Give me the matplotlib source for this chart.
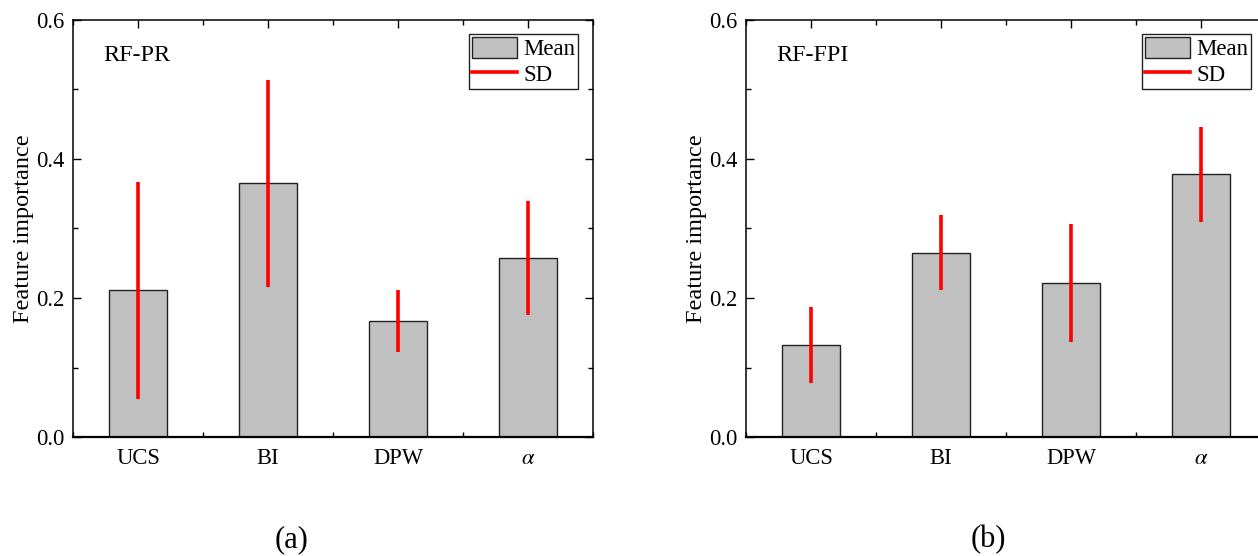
import matplotlib
matplotlib.use("Agg")
import matplotlib.pyplot as plt
from matplotlib.patches import Patch
from matplotlib.lines import Line2D
from matplotlib.ticker import MultipleLocator, FormatStrFormatter

plt.rcParams['font.family'] = ['Liberation Serif', 'DejaVu Serif']
plt.rcParams['mathtext.fontset'] = 'stix'

features = ['UCS', 'BI', 'DPW', r'$\alpha$']

# RF-PR
pr_mean = [0.211, 0.365, 0.167, 0.258]
pr_sd = [0.156, 0.149, 0.044, 0.082]

# RF-FPI
fpi_mean = [0.132, 0.265, 0.222, 0.378]
fpi_sd = [0.055, 0.054, 0.085, 0.068]

panels = [('RF-PR', pr_mean, pr_sd, '(a)'),
          ('RF-FPI', fpi_mean, fpi_sd, '(b)')]

fig = plt.figure(figsize=(12.58, 5.56), dpi=100)
lefts = [73 / 1258, 746 / 1258]
tag_x = [292 / 1258, 988 / 1258]
w = 520 / 1258
b = (556 - 437) / 556
h = 417 / 556

for i, (name, mean, sd, tag) in enumerate(panels):
    ax = fig.add_axes([lefts[i], b, w, h])
    x = list(range(len(features)))
    ax.bar(x, mean, width=0.45, color='#c0c0c0', edgecolor='#222222',
           linewidth=1.0, zorder=2)
    ax.errorbar(x, mean, yerr=sd, fmt='none', ecolor='#ff0000',
                elinewidth=2.6, capsize=0, zorder=3)
    ax.set_xlim(-0.5, 3.5)
    ax.set_ylim(0, 0.6)
    ax.set_xticks(x)
    ax.set_xticklabels(features)
    ax.xaxis.set_minor_locator(MultipleLocator(0.5))
    ax.yaxis.set_major_locator(MultipleLocator(0.2))
    ax.yaxis.set_minor_locator(MultipleLocator(0.1))
    ax.yaxis.set_major_formatter(FormatStrFormatter('%.1f'))
    ax.tick_params(which='both', direction='in', top=True, right=True,
                   labelsize=16.3, width=1.0)
    ax.tick_params(which='major', length=6, pad=6)
    ax.tick_params(axis='x', which='major', pad=8)
    ax.tick_params(which='minor', length=3.5)
    for s in ax.spines.values():
        s.set_linewidth(1.1)
    ax.spines['bottom'].set_linewidth(1.6)
    ax.set_ylabel('Feature importance', fontsize=17.5, labelpad=2)
    ax.text(0.058, 0.916, name, transform=ax.transAxes, fontsize=17.4,
            va='center', ha='left')
    handles = [Patch(facecolor='#c0c0c0', edgecolor='#222222', linewidth=1.0),
               Line2D([], [], color='#ff0000', lw=2.6)]
    leg = ax.legend(handles, ['Mean', 'SD'], loc='upper right',
                    bbox_to_anchor=(0.971, 0.966), fontsize=16.5,
                    frameon=True, fancybox=False, edgecolor='#222222',
                    framealpha=1, handlelength=2.0, handleheight=1.05,
                    handletextpad=0.25, borderpad=0.12, labelspacing=0.1,
                    borderaxespad=0)
    leg.get_frame().set_linewidth(1.0)
    fig.text(tag_x[i], 16 / 556, tag, fontsize=22, ha='center', va='center')

fig.savefig('out.png', dpi=100)
